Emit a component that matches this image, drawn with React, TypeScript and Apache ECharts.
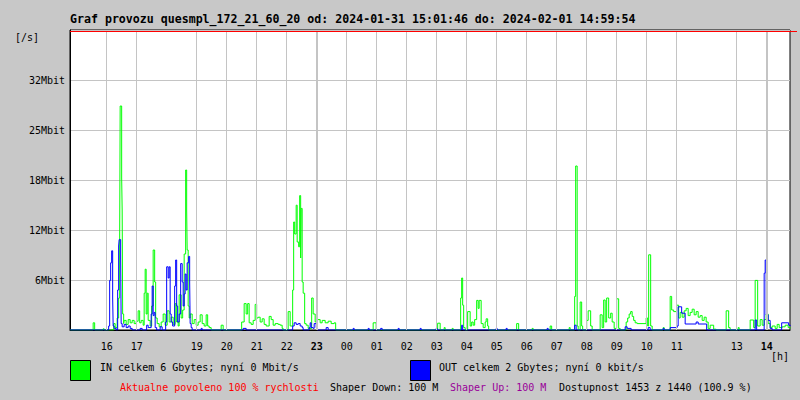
import { useEffect, useRef } from "react";
import * as echarts from "echarts";

const TITLE = "Graf provozu quesmpl_172_21_60_20 od: 2024-01-31 15:01:46 do: 2024-02-01 14:59:54";
const Y_LABELS = ["", "6Mbit", "12Mbit", "18Mbit", "25Mbit", "32Mbit", ""];
const Y_STEP = 6.25;
const HOUR_LABELS = ["16", "17", "19", "20", "21", "22", "23", "00", "01", "02", "03", "04", "05", "06", "07", "08", "09", "10", "11", "13", "14"];
const BOLD_HOURS = ["23", "14"];
// minutes since 2024-01-31 00:00
const WINDOW_START = 886.67;
const WINDOW_LEN = 1440;

const LEGEND_IN = "IN celkem 6 Gbytes; nyní 0 Mbit/s";
const LEGEND_OUT = "OUT celkem 2 Gbytes; nyní 0 kbit/s";
const INFO_LINE = [
  { text: "Aktualne povoleno 100 % rychlosti", color: "#ff0000" },
  { text: "Shaper Down: 100 M", color: "#000000" },
  { text: "Shaper Up: 100 M", color: "#990099" },
  { text: "Dostupnost 1453 z 1440 (100.9 %)", color: "#000000" },
];

// [minute since 2024-01-31 00:00, Mbit/s]
const IN_TRAFFIC: [number, number][] = [
  [887, 0], [933, 0.9], [936, 0], [953, 0.15], [955, 0], [974, 0.8], [977, 0.3], [981, 1.5], [984, 4],
  [986, 11], [987, 28], [990, 19], [991, 15], [992, 2], [994, 0.8], [995, 1.2], [999, 0.7], [1003, 1.3],
  [1007, 0.9], [1011, 1.2], [1015, 0.8], [1019, 1.1], [1023, 2.4], [1026, 0.9], [1029, 1.2], [1033, 0.6],
  [1035, 4.6], [1037, 7.6], [1039, 2], [1041, 4.6], [1043, 1.2], [1047, 0.5], [1050, 3], [1053, 10],
  [1056, 6], [1058, 1.5], [1061, 0.8], [1065, 0.4], [1069, 1], [1073, 2], [1077, 0.6], [1081, 2.4],
  [1085, 1], [1089, 1.6], [1093, 0.7], [1097, 3.3], [1100, 1], [1103, 0.5], [1105, 4.4], [1109, 1.5],
  [1112, 2.5], [1115, 9.5], [1118, 20], [1120, 15], [1121, 10], [1123, 3], [1125, 1.5], [1127, 2],
  [1131, 0.8], [1135, 1.3], [1139, 0.6], [1143, 1], [1147, 1.9], [1151, 0.8], [1155, 0.5], [1159, 1.9],
  [1162, 0.5], [1165, 0.3], [1169, 0], [1189, 0.6], [1193, 0],
  [1230, 1], [1235, 3.3], [1239, 2], [1242, 3.3], [1245, 0.9], [1249, 0.7], [1253, 1.2], [1257, 3.2],
  [1260, 1.5], [1263, 1.6], [1267, 1], [1271, 1.4], [1275, 0.7], [1279, 0.5], [1285, 1.7], [1289, 1.3],
  [1293, 0.6], [1297, 0.8], [1303, 0.7], [1307, 0.6], [1311, 0.2], [1313, 0],
  [1323, 2.3], [1327, 0.5], [1332, 5], [1334, 13.5], [1336, 12], [1339, 15.6], [1341, 11], [1344, 10.4],
  [1346, 16.8], [1348, 9], [1349, 15.2], [1351, 6], [1353, 4.6], [1356, 0.8], [1359, 0.6], [1363, 0.2],
  [1370, 4], [1373, 2], [1377, 1], [1381, 1.3], [1387, 0.9], [1391, 1.2], [1397, 0.9], [1403, 1.1],
  [1409, 0.8], [1415, 0.9], [1418, 0],
  [1493, 0.9], [1499, 0], [1622, 0.85], [1627, 0], [1635, 0.3], [1637, 0], [1651, 0.2], [1653, 0],
  [1668, 4], [1670, 6.5], [1672, 3.1], [1674, 0.3], [1677, 0], [1682, 2.3], [1687, 0.5], [1690, 1],
  [1693, 0.6], [1696, 1.3], [1700, 3.7], [1703, 2.7], [1705, 3.7], [1709, 0.8], [1713, 0.3], [1717, 1],
  [1719, 1.4], [1722, 0.5], [1724, 0],
  [1780, 0.8], [1784, 0], [1811, 0.2], [1813, 0], [1847, 0.5], [1850, 0], [1885, 0.3], [1887, 0],
  [1896, 4.2], [1898, 20.5], [1901, 0.5], [1903, 0], [1907, 3.5], [1910, 0.5], [1912, 0],
  [1920, 1.2], [1923, 2.4], [1928, 0.5], [1931, 0],
  [1947, 1.9], [1951, 0.3], [1954, 3.75], [1957, 1], [1960, 4], [1964, 1.5], [1968, 2.1], [1971, 1],
  [1975, 0.2], [1980, 3.9], [1984, 0.2], [1987, 0],
  [1999, 1], [2002, 1.5], [2005, 2], [2008, 2.3], [2011, 1.7], [2014, 1.2], [2017, 0.9], [2021, 0.8],
  [2039, 1.5], [2042, 0.5], [2044, 9.4], [2048, 0.5], [2051, 0], [2073, 0.3], [2075, 0],
  [2087, 4.2], [2090, 2.5], [2094, 2.3], [2100, 3.1], [2104, 1.5], [2107, 2.2], [2111, 1.6], [2115, 2.4],
  [2119, 2.7], [2123, 1.8], [2127, 2.2], [2131, 2.6], [2135, 1.9], [2139, 2.3], [2143, 1.6], [2147, 1.8],
  [2151, 1.2], [2155, 1.6], [2159, 1], [2163, 0.2], [2167, 0.6], [2174, 0.1], [2179, 0],
  [2199, 2.4], [2204, 0.3], [2207, 0], [2223, 0.3], [2225, 0],
  [2247, 1.25], [2254, 0.3], [2257, 6.2], [2262, 0.5], [2267, 1.3], [2271, 0.6], [2275, 1.3], [2279, 2],
  [2283, 0.8], [2287, 0.3], [2291, 0.5], [2297, 0.2], [2301, 0.7], [2305, 0.3], [2311, 0.4], [2317, 0.6],
  [2323, 0.3], [2327, 0.2],
];

const OUT_TRAFFIC: [number, number][] = [
  [887, 0], [964, 0.5], [966, 6.2], [968, 8.4], [970, 9.9], [972, 4], [973, 0.5], [975, 0.2], [979, 0],
  [982, 5], [984, 10.5], [985, 11.3], [988, 9], [989, 0.8], [991, 0.4], [995, 0.7], [999, 0.3], [1003, 0.5],
  [1007, 0.2], [1011, 0], [1027, 0.2], [1031, 0],
  [1040, 0.6], [1043, 0.3], [1049, 2], [1051, 5.5], [1053, 1.8], [1055, 2.2], [1057, 0.3], [1060, 0],
  [1067, 0.4], [1071, 0],
  [1078, 1], [1080, 7.9], [1083, 6.5], [1085, 7.9], [1087, 2], [1089, 1], [1092, 0.5], [1096, 5.5],
  [1098, 8.75], [1100, 3], [1102, 1], [1105, 2], [1108, 8.3], [1111, 6], [1113, 3], [1115, 4.5], [1117, 7],
  [1119, 5], [1121, 8.4], [1124, 9.2], [1126, 6], [1127, 0.8], [1129, 0.3], [1131, 0],
  [1149, 0.2], [1151, 0], [1233, 0.2], [1239, 0],
  [1332, 0.5], [1335, 0.9], [1339, 0.7], [1343, 0.8], [1347, 0.5], [1351, 0.3], [1353, 0],
  [1365, 0.3], [1367, 0.9], [1369, 0.3], [1373, 0.2], [1375, 0.8], [1379, 0.3], [1381, 0], [1399, 0.3], [1403, 0],
  [1453, 0.2], [1455, 0], [1483, 0.2], [1485, 0], [1508, 0.2], [1511, 0], [1543, 0.2], [1545, 0],
  [1587, 0.2], [1589, 0], [1619, 0.2], [1621, 0], [1670, 0.6], [1672, 0], [1739, 0.2], [1741, 0],
  [1759, 0.2], [1761, 0], [1841, 0.2], [1843, 0], [1896, 0.6], [1899, 0],
  [1997, 0.4], [2001, 0.2], [2009, 0], [2043, 0.3], [2047, 0], [2073, 0.2], [2075, 0],
  [2087, 0.3], [2101, 0.5], [2103, 2.9], [2110, 2.1], [2117, 0.75], [2139, 1], [2143, 0.75], [2160, 0],
  [2257, 1.25], [2260, 0], [2275, 7.1], [2277, 8.75], [2279, 1.9], [2283, 1.2], [2287, 0.2], [2291, 0],
  [2310, 0.9], [2324, 0.6], [2327, 0.5],
];

const MONO = '"DejaVu Sans Mono", monospace';

function hourToMinute(h: string): number {
  const n = parseInt(h, 10);
  return (n * 60 < WINDOW_START ? n + 24 : n) * 60;
}

export default function App() {
  const ref = useRef<HTMLDivElement>(null);
  useEffect(() => {
    if (!ref.current) return;
    const chart = echarts.init(ref.current, null, { renderer: "svg" });
    const infoX = [120, 330, 450, 559];
    chart.setOption({
      animation: false,
      backgroundColor: "#c8c8c8",
      grid: {
        left: 70, top: 30, width: 720, height: 300,
        show: true, backgroundColor: "#ffffff", borderColor: "#000000", borderWidth: 1,
      },
      xAxis: {
        type: "value",
        min: WINDOW_START,
        max: WINDOW_START + WINDOW_LEN,
        axisLine: { show: true, lineStyle: { color: "#000", width: 1 } },
        axisTick: { show: false },
        axisLabel: { show: false },
        splitLine: { show: false },
      },
      yAxis: {
        type: "value",
        min: 0,
        max: Y_STEP * (Y_LABELS.length - 1),
        interval: Y_STEP,
        axisLine: { show: true, lineStyle: { color: "#000" } },
        axisTick: { show: false },
        axisLabel: {
          margin: 5,
          color: "#000",
          fontFamily: MONO,
          fontSize: 10,
          formatter: (v: number) => Y_LABELS[Math.round(v / Y_STEP)] || "",
        },
        splitLine: { show: true, lineStyle: { color: "#c4c4c4", width: 1 } },
      },
      series: [
        {
          type: "line",
          data: [],
          z: 1,
          markLine: {
            silent: true,
            symbol: ["none", "none"],
            animation: false,
            data: HOUR_LABELS.map((h) => {
              const bold = BOLD_HOURS.includes(h);
              return {
                xAxis: hourToMinute(h),
                lineStyle: { color: "#c4c4c4", width: bold ? 2 : 1, type: "solid" },
                label: {
                  show: true,
                  position: "start",
                  distance: 11,
                  formatter: h,
                  color: "#000",
                  fontFamily: MONO,
                  fontSize: 10,
                  fontWeight: bold ? "bold" : "normal",
                },
              };
            }),
          },
        },
        {
          name: "IN",
          type: "line",
          step: "end",
          data: IN_TRAFFIC,
          showSymbol: false,
          symbol: "none",
          z: 3,
          lineStyle: { color: "#00ff00", width: 1 },
        },
        {
          name: "OUT",
          type: "line",
          step: "end",
          data: OUT_TRAFFIC,
          showSymbol: false,
          symbol: "none",
          z: 4,
          lineStyle: { color: "#0000ff", width: 1 },
        },
      ],
      graphic: [
        { type: "text", x: 70, y: 19, z: 10, style: { text: TITLE, font: `bold 11.6px ${MONO}`, fill: "#000", verticalAlign: "middle" } },
        { type: "text", x: 15, y: 37, z: 10, style: { text: "[/s]", font: `10px ${MONO}`, fill: "#000", verticalAlign: "middle" } },
        { type: "text", x: 771, y: 356, z: 10, style: { text: "[h]", font: `10px ${MONO}`, fill: "#000", verticalAlign: "middle" } },
        { type: "line", z: 10, shape: { x1: 70, y1: 31.5, x2: 797, y2: 31.5 }, style: { stroke: "#ff0000", lineWidth: 1 } },
        { type: "rect", z: 10, shape: { x: 70.5, y: 360.5, width: 20, height: 20 }, style: { fill: "#00ff00", stroke: "#000", lineWidth: 1 } },
        { type: "text", x: 100, y: 367, z: 10, style: { text: LEGEND_IN, font: `10px ${MONO}`, fill: "#000", verticalAlign: "middle" } },
        { type: "rect", z: 10, shape: { x: 410.5, y: 360.5, width: 20, height: 20 }, style: { fill: "#0000ff", stroke: "#000", lineWidth: 1 } },
        { type: "text", x: 439, y: 367, z: 10, style: { text: LEGEND_OUT, font: `10px ${MONO}`, fill: "#000", verticalAlign: "middle" } },
        ...INFO_LINE.map((t, i) => ({
          type: "text", x: infoX[i], y: 387, z: 10,
          style: { text: t.text, font: `10px ${MONO}`, fill: t.color, verticalAlign: "middle" },
        })),
      ],
    });
    return () => chart.dispose();
  }, []);
  return (
    <div
      ref={ref}
      style={{ position: "fixed", left: 0, top: 0, width: 800, height: 400, background: "#c8c8c8" }}
    />
  );
}
